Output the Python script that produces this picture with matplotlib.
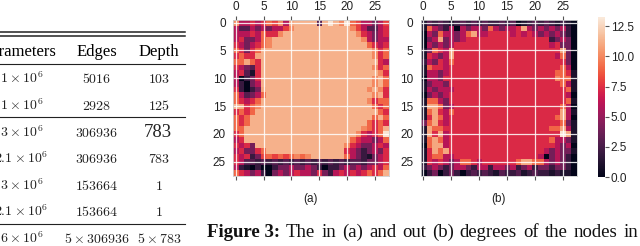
import numpy as np
import matplotlib
matplotlib.use("Agg")
import matplotlib.pyplot as plt
from matplotlib.lines import Line2D
import seaborn as sns

plt.rcParams['mathtext.fontset'] = 'cm'

# degree maps, one level code per cell (see LEVELS)
in_deg_rows = [
    "a667679" "8a6bccc" "c3cdcad" "9866468",
    "6336464" "668accc" "ccccccc" "a863367",
    "6667697" "7accccc" "ccccccc" "ca76467",
    "674469a" "ccccccc" "ccccccc" "cca6466",
    "764679a" "ccccccc" "ccccccc" "ccc9767",
    "97479cc" "ccccccc" "ccccccc" "cccca79",
    "7977bcc" "ccccccc" "ccccccc" "cccca79",
    "99b97cc" "ccccccc" "ccccccc" "ccccc76",
    "76437cc" "ccccccc" "ccccccc" "cccca79",
    "67317cc" "ccccccc" "ccccccc" "ccccca7",
    "60247cc" "ccccccc" "ccccccc" "ccccac9",
    "62046cc" "ccccccc" "ccccccc" "ccccac9",
    "72024bc" "ccccccc" "ccccccc" "cccaca7",
    "963469c" "ccccccc" "ccccccc" "ccccac7",
    "97679cc" "ccccccc" "ccccccc" "ccca799",
    "cb79acc" "ccccccc" "ccccccc" "cccc979",
    "7979ccc" "ccccccc" "ccccccc" "ccccc97",
    "979cccc" "ccccccc" "ccccccc" "cccc9c9",
    "979cccc" "ccccccc" "ccccccc" "ccc9797",
    "99ccccc" "ccccccc" "ccccccc" "cca979c",
    "79ccccc" "ccccccc" "ccccccc" "ca7679d",
    "67ccccc" "ccccccc" "ccccccc" "9766469",
    "7674ccc" "ccccccc" "cccccca" "7644676",
    "674479c" "ccccccc" "cccccc7" "6424647",
    "7672489" "8989a9a" "cccccc9" "6421467",
    "7633232" "3232323" "2323232" "3324467",
    "6210200" "2446446" "4202246" "4646769",
    "9764620" "4646766" "4742676" "767979c",
]

out_deg_rows = [
    "1323212" "3232322" "3230123" "2321210",
    "1964260" "6466496" "4667b64" "6464620",
    "0649664" "69b6677" "7767676" "4646420",
    "046b464" "6777777" "7777777" "7724640",
    "0646467" "7777777" "7777777" "7767440",
    "14976b7" "7777777" "7777777" "7777b40",
    "17646b7" "7777777" "7777777" "7776940",
    "2647697" "7777777" "7777777" "7777740",
    "1977677" "7777777" "7777777" "7777960",
    "1664677" "7777777" "7777777" "7779971",
    "0664777" "7777777" "7777777" "777a991",
    "1466477" "7777777" "7777777" "7777961",
    "1646667" "7777777" "7777777" "7777791",
    "0464677" "7777777" "7777777" "7777760",
    "1996477" "7777777" "7777777" "7777791",
    "1bb9467" "7777777" "7777777" "7777960",
    "19b7697" "7777777" "7777777" "7777b61",
    "17b9677" "7777777" "7777777" "7779b60",
    "49b7677" "7777777" "7777777" "7777941",
    "1b99777" "7777777" "7777777" "7799b61",
    "1b7b677" "7777777" "7777777" "7777db1",
    "19b9677" "7777777" "7777777" "7796641",
    "09bb677" "7777777" "7777777" "7776460",
    "17b9b77" "7777777" "7777777" "7646441",
    "1799667" "7777777" "7777777" "6046420",
    "1767646" "9976777" "7779bb9" "9646420",
    "2464246" "6426626" "6462462" "4424420",
    "0240242" "0232321" "3223123" "2212110",
]

# level code -> degree value
LEVELS = {'0': 0, '1': 1, '2': 2, '3': 3, '4': 4, '5': 5, '6': 6, '7': 7.3,
          '8': 8, '9': 9, 'a': 10, 'b': 11, 'c': 11.3, 'd': 13}

cbar_ticks = [0.0, 2.5, 5.0, 7.5, 10.0, 12.5]
grid_ticks = [0, 5, 10, 15, 20, 25]

# left table (cut off by the crop)
header = ["Parameters", "Edges", "Depth"]
params = [r"$1\times10^{6}$", r"$1\times10^{6}$", r"$3\times10^{6}$", r"$2.1\times10^{6}$",
          r"$3\times10^{6}$", r"$2.1\times10^{6}$", r"$6\times10^{6}$"]
edges = ["$5016$", "$2928$", "$306936$", "$306936$", "$153664$", "$153664$", r"$5\times306936$"]
depth = ["$103$", "$125$", "783", "$783$", "$1$", "$1$", r"$5\times783$"]

caption_bold = "Figure 3:"
caption_words = "The in (a) and out (b) degrees of the nodes in".split()


def to_grid(rows):
    for r in rows:
        assert len(r) == 28, (r, len(r))
    return np.array([[LEVELS[c] for c in r] for r in rows], dtype=float)


in_deg = to_grid(in_deg_rows)
out_deg = to_grid(out_deg_rows)

W, H = 640, 246
fig = plt.figure(figsize=(6.4, 2.46), dpi=100)
cmap = sns.color_palette("rocket", as_cmap=True)


def fx(px):
    return px / W


def fy(py):
    return 1 - py / H


sans = "Liberation Sans"
serif = "Liberation Serif"


def heat(left, data):
    ax = fig.add_axes([fx(left), fy(175.6), 156 / W, 155.7 / H])
    im = ax.imshow(data, cmap=cmap, vmin=0, vmax=13.3, aspect='auto', interpolation='nearest')
    ax.set_xticks(grid_ticks)
    ax.set_yticks(grid_ticks)
    ax.tick_params(axis='x', top=True, bottom=True, labeltop=True, labelbottom=False,
                   length=3, width=0.8, color='#555555', pad=2, labelsize=8.5)
    ax.tick_params(axis='y', length=0, pad=5, labelsize=8.5)
    for lab in ax.get_xticklabels() + ax.get_yticklabels():
        lab.set_fontfamily(sans)
        lab.set_color('#222222')
    ax.grid(True, color='white', lw=0.9, alpha=0.85)
    for s in ax.spines.values():
        s.set_color('#cccccc')
        s.set_linewidth(0.6)
    return ax, im


ax_a, im = heat(232.9, in_deg)
ax_b, _ = heat(420.5, out_deg)
fig.text(fx(311), fy(199), "(a)", ha='center', va='center', fontsize=8.5, family=sans, color='#222222')
fig.text(fx(498), fy(199), "(b)", ha='center', va='center', fontsize=8.5, family=sans, color='#222222')

cax = fig.add_axes([fx(598.3), fy(177), 6.7 / W, 160.3 / H])
cb = fig.colorbar(im, cax=cax, ticks=cbar_ticks)
cb.outline.set_visible(False)
cb.ax.tick_params(length=3, width=0.8, color='#555555', pad=1, labelsize=8.5)
cb.ax.set_yticklabels(["%.1f" % t for t in cbar_ticks], family=sans, color='#222222')

# table rules
for y, lw in [(31.7, 1.1), (36.0, 1.1), (64.0, 0.8), (116.7, 0.8), (224.0, 0.8)]:
    fig.add_artist(Line2D([0, fx(185)], [fy(y), fy(y)], transform=fig.transFigure,
                          color='#222222', lw=lw))

fig.text(fx(56), fy(56), header[0], ha='right', va='baseline', fontsize=12, family=serif)
fig.text(fx(97), fy(56), header[1], ha='center', va='baseline', fontsize=12, family=serif)
fig.text(fx(159), fy(56), header[2], ha='center', va='baseline', fontsize=12, family=serif)

baselines = [83.3, 110.0, 136.6, 163.3, 190.0, 216.3, 243.0]
p_right = [43, 43, 43, 48, 43, 48, 43]
for i, yb in enumerate(baselines):
    fig.text(fx(p_right[i]), fy(yb), params[i], ha='right', va='baseline', fontsize=10, color='#222222')
    fig.text(fx(97), fy(yb), edges[i], ha='center', va='baseline', fontsize=10, color='#222222')
    if depth[i].startswith("$"):
        fig.text(fx(159), fy(yb), depth[i], ha='center', va='baseline', fontsize=10, color='#222222')
    else:
        fig.text(fx(158), fy(yb + 0.7), depth[i], ha='center', va='baseline', fontsize=13.5,
                 family=serif, color='#222222')

# caption, justified to the right edge like the LaTeX original
cap_kw = dict(va='baseline', fontsize=13.5, family=serif, color='#111111')
t_bold = fig.text(fx(207), fy(237), caption_bold, weight='bold', **cap_kw)
t_words = [fig.text(0, fy(237), w, **cap_kw) for w in caption_words]
fig.canvas.draw()
r = fig.canvas.get_renderer()
x0 = t_bold.get_window_extent(r).x1
widths = [t.get_window_extent(r).width for t in t_words]
x_end = 638
gap = (x_end - x0 - sum(widths)) / len(t_words)
x = x0 + gap
for t, w in zip(t_words, widths):
    t.set_x(x / W)
    x += w + gap

fig.savefig("out.png", dpi=100)
